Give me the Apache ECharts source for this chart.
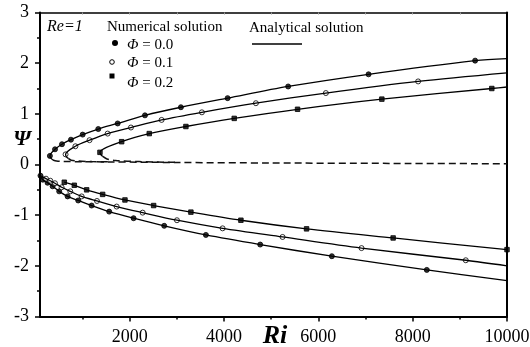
<!DOCTYPE html>
<html>
<head>
<meta charset="utf-8">
<script src="https://cdn.jsdelivr.net/npm/echarts@6/dist/echarts.min.js"></script>
<style>
  html, body { margin: 0; padding: 0; background: #fff; }
  #main { width: 530px; height: 347px; }
</style>
</head>
<body>
<div id="main"></div>
<script>
// axes
const xMin = 100
const xMax = 10000
const xMajorTicks = [2000, 4000, 6000, 8000, 10000]
const xMinorTicks = [1000, 3000, 5000, 7000, 9000]
const xTopTicks = [1000, 2000, 3000, 4000, 5000, 6000, 7000, 8000, 9000]
const yMin = -3
const yMax = 3

// numerical solution (markers), [Ri, Psi]
const phi0Upper = [[310, 0.17], [418, 0.30], [566, 0.40], [756, 0.49], [1004, 0.59], [1335, 0.70], [1746, 0.81], [2325, 0.97], [3087, 1.13], [4077, 1.31], [5361, 1.54], [7065, 1.78], [9324, 2.05]]
const phi0Lower = [[110, -0.22], [160, -0.30], [260, -0.36], [367, -0.43], [507, -0.53], [685, -0.63], [910, -0.71], [1194, -0.81], [1567, -0.93], [2084, -1.06], [2733, -1.21], [3617, -1.39], [4768, -1.58], [6287, -1.81], [8300, -2.08]]
const phi1Upper = [[642, 0.20], [850, 0.36], [1150, 0.48], [1534, 0.61], [2028, 0.73], [2678, 0.88], [3532, 1.03], [4677, 1.21], [6160, 1.41], [8116, 1.64]]
const phi1Lower = [[227, -0.28], [318, -0.32], [417, -0.37], [559, -0.45], [742, -0.53], [983, -0.63], [1308, -0.72], [1725, -0.83], [2276, -0.95], [3003, -1.10], [3971, -1.26], [5242, -1.43], [6916, -1.65], [9126, -1.89]]
const phi2Upper = [[1371, 0.24], [1831, 0.45], [2416, 0.61], [3193, 0.75], [4217, 0.91], [5560, 1.09], [7347, 1.29], [9678, 1.50]]
const phi2Lower = [[615, -0.35], [827, -0.41], [1089, -0.50], [1428, -0.59], [1901, -0.70], [2509, -0.81], [3299, -0.94], [4359, -1.10], [5751, -1.27], [7586, -1.45], [10000, -1.68]]

// analytical solution: extra points of the curves outside the markers
const phi0Bend = [[373, 0.09], [331, 0.125]]
const phi0UpperEnd = [10000, 2.09]
const phi0LowerEnd = [10000, -2.29]
const phi1Bend = [[700, 0.12], [660, 0.15]]
const phi1LowerStart = [130, -0.23]
const phi1UpperEnd = [10000, 1.81]
const phi1LowerEnd = [10000, -2.00]
const phi2Bend = [[1430, 0.16], [1385, 0.20]]
const phi2UpperEnd = [10000, 1.53]

// dashed branches (0.1 and 0.2 run into the 0.0 one)
const phi0Dashed = [[373, 0.09], [450, 0.07], [600, 0.06], [1000, 0.055], [1600, 0.05], [3000, 0.04], [5000, 0.03], [7500, 0.022], [10000, 0.015]]
const phi1Dashed = [[700, 0.12], [760, 0.085], [900, 0.068], [1200, 0.058], [1600, 0.052]]
const phi2Dashed = [[1430, 0.16], [1520, 0.11], [1700, 0.08], [2200, 0.058], [3000, 0.042]]

const serif = "'Liberation Serif', 'Times New Roman', serif"

const solid = (data) => ({
  type: 'line',
  data: data,
  showSymbol: false,
  smooth: 0.3,
  silent: true,
  lineStyle: { color: '#000', width: 1.3 }
})
const dashed = (data) => ({
  type: 'line',
  data: data,
  showSymbol: false,
  smooth: 0.3,
  silent: true,
  lineStyle: { color: '#111', width: 1.5, type: [7, 4] }
})
const dots = (data, symbol, size, fill) => ({
  type: 'scatter',
  data: data,
  symbol: symbol,
  symbolSize: size,
  silent: true,
  itemStyle: { color: fill, borderColor: '#000', borderWidth: 1 }
})

const chart = echarts.init(document.getElementById('main'))
chart.setOption({
  animation: false,
  backgroundColor: '#fff',
  grid: { left: 40, right: 23, top: 12.5, bottom: 30.5, containLabel: false, outerBoundsMode: 'none' },
  xAxis: [
    {
      type: 'value', min: xMin, max: xMax, position: 'bottom',
      axisLine: { onZero: false, lineStyle: { color: '#000', width: 2 } },
      axisTick: { customValues: xMajorTicks, length: 5, lineStyle: { color: '#000', width: 1.5 } },
      axisLabel: {
        customValues: xMajorTicks, color: '#000', fontFamily: serif, fontSize: 18, margin: 12,
        formatter: (v) => String(v)
      },
      splitLine: { show: false }
    },
    {
      type: 'value', min: xMin, max: xMax, position: 'bottom',
      axisLine: { show: false, onZero: false },
      axisTick: { customValues: xMinorTicks, length: 3, lineStyle: { color: '#000', width: 1.5 } },
      axisLabel: { show: false },
      splitLine: { show: false }
    },
    {
      type: 'value', min: xMin, max: xMax, position: 'top',
      axisLine: { onZero: false, lineStyle: { color: '#000', width: 1.5 } },
      axisTick: { customValues: xTopTicks, inside: true, length: 2, lineStyle: { color: '#999', width: 1 } },
      axisLabel: { show: false },
      splitLine: { show: false }
    }
  ],
  yAxis: [
    {
      type: 'value', min: yMin, max: yMax, interval: 1, position: 'left',
      axisLine: { show: true, onZero: false, lineStyle: { color: '#000', width: 2 } },
      axisTick: { length: 5, lineStyle: { color: '#000', width: 1.5 } },
      minorTick: { show: true, splitNumber: 2, length: 3, lineStyle: { color: '#000', width: 1.5 } },
      axisLabel: { color: '#000', fontFamily: serif, fontSize: 18, margin: 11 },
      splitLine: { show: false }
    },
    {
      type: 'value', min: yMin, max: yMax, interval: 1, position: 'right',
      axisLine: { show: true, onZero: false, lineStyle: { color: '#000', width: 2 } },
      axisTick: { show: false },
      axisLabel: { show: false },
      splitLine: { show: false }
    }
  ],
  series: [
    dashed(phi0Dashed),
    dashed(phi1Dashed),
    dashed(phi2Dashed),
    solid(phi0Bend.concat(phi0Upper, [phi0UpperEnd])),
    solid(phi1Bend.concat(phi1Upper, [phi1UpperEnd])),
    solid(phi2Bend.concat(phi2Upper, [phi2UpperEnd])),
    solid(phi0Lower.concat([phi0LowerEnd])),
    solid([phi1LowerStart].concat(phi1Lower, [phi1LowerEnd])),
    solid(phi2Lower),
    dots(phi0Upper.concat(phi0Lower), 'circle', 5, '#000'),
    dots(phi1Upper.concat(phi1Lower), 'circle', 5, '#fff'),
    dots(phi2Upper.concat(phi2Lower), 'rect', 4.5, '#000')
  ],
  graphic: [
    { type: 'text', style: { x: 47, y: 27, text: 'Re=1', font: 'italic 16px ' + serif, fill: '#000', verticalAlign: 'middle' } },
    { type: 'text', style: { x: 107, y: 27, text: 'Numerical solution', font: '15px ' + serif, fill: '#000', verticalAlign: 'middle' } },
    { type: 'text', style: { x: 249, y: 28, text: 'Analytical solution', font: '15px ' + serif, fill: '#000', verticalAlign: 'middle' } },
    { type: 'line', shape: { x1: 252, y1: 44, x2: 302, y2: 44 }, style: { stroke: '#000', lineWidth: 1.5 } },
    { type: 'circle', shape: { cx: 115, cy: 43, r: 3 }, style: { fill: '#000' } },
    { type: 'circle', shape: { cx: 112, cy: 62, r: 2.3 }, style: { fill: '#fff', stroke: '#000', lineWidth: 1 } },
    { type: 'rect', shape: { x: 109.5, y: 73.5, width: 5, height: 5 }, style: { fill: '#000' } },
    { type: 'text', style: { x: 127, y: 45, text: '{i|Φ} = 0.0', font: '15px ' + serif, fill: '#000', verticalAlign: 'middle', rich: { i: { fontStyle: 'italic', fontFamily: serif, fontSize: 15 } } } },
    { type: 'text', style: { x: 127, y: 63.5, text: '{i|Φ} = 0.1', font: '15px ' + serif, fill: '#000', verticalAlign: 'middle', rich: { i: { fontStyle: 'italic', fontFamily: serif, fontSize: 15 } } } },
    { type: 'text', style: { x: 127, y: 83, text: '{i|Φ} = 0.2', font: '15px ' + serif, fill: '#000', verticalAlign: 'middle', rich: { i: { fontStyle: 'italic', fontFamily: serif, fontSize: 15 } } } },
    { type: 'text', style: { x: 22, y: 139, text: 'Ψ', font: 'italic bold 22px ' + serif, fill: '#000', align: 'center', verticalAlign: 'middle' } },
    { type: 'text', style: { x: 275, y: 336, text: 'Ri', font: 'italic bold 26px ' + serif, fill: '#000', align: 'center', verticalAlign: 'middle' } }
  ]
})
window.addEventListener('resize', () => {
  chart.resize()
})
</script>
</body>
</html>
